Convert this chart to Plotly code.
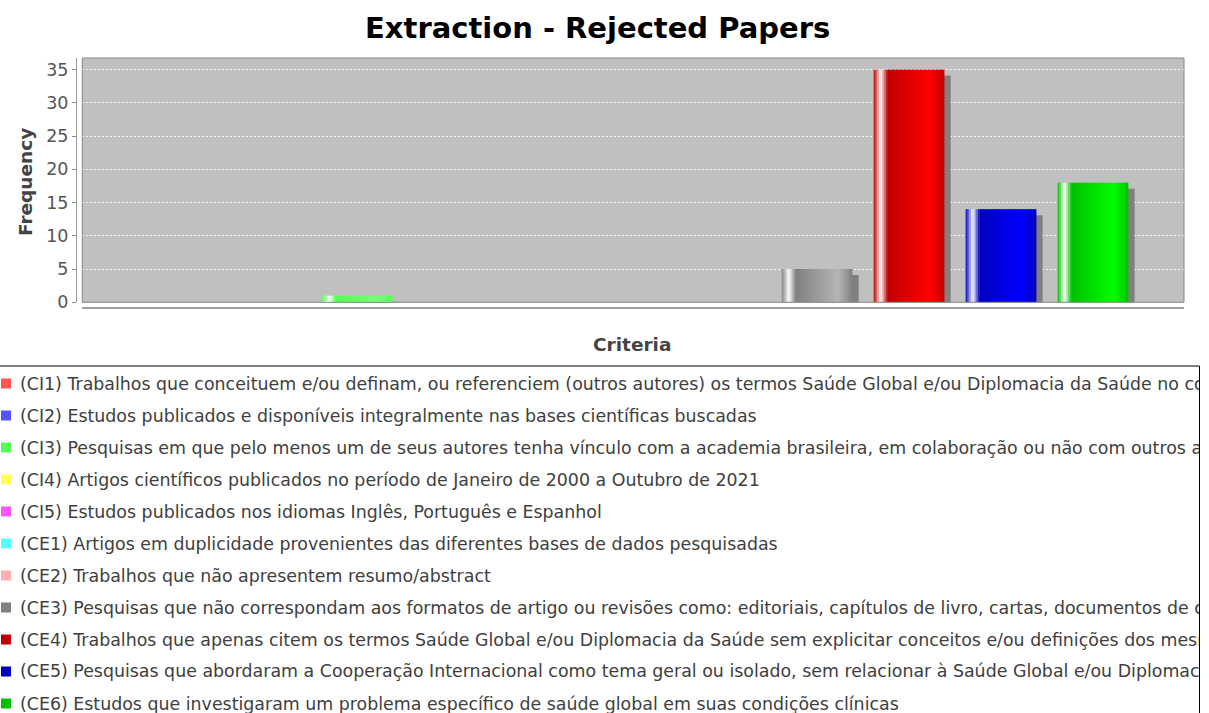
import plotly.graph_objects as go

# ---------------- data ----------------
criteria_codes = ["CI1", "CI2", "CI3", "CI4", "CI5", "CE1", "CE2", "CE3", "CE4", "CE5", "CE6"]
criteria_text = [
    "Trabalhos que conceituem e/ou definam, ou referenciem (outros autores) os termos Saúde Global e/ou Diplomacia da Saúde no contexto brasileiro",
    "Estudos publicados e disponíveis integralmente nas bases científicas buscadas",
    "Pesquisas em que pelo menos um de seus autores tenha vínculo com a academia brasileira, em colaboração ou não com outros autores",
    "Artigos científicos publicados no período de Janeiro de 2000 a Outubro de 2021",
    "Estudos publicados nos idiomas Inglês, Português e Espanhol",
    "Artigos em duplicidade provenientes das diferentes bases de dados pesquisadas",
    "Trabalhos que não apresentem resumo/abstract",
    "Pesquisas que não correspondam aos formatos de artigo ou revisões como: editoriais, capítulos de livro, cartas, documentos de consenso",
    "Trabalhos que apenas citem os termos Saúde Global e/ou Diplomacia da Saúde sem explicitar conceitos e/ou definições dos mesmos",
    "Pesquisas que abordaram a Cooperação Internacional como tema geral ou isolado, sem relacionar à Saúde Global e/ou Diplomacia da Saúde",
    "Estudos que investigaram um problema específico de saúde global em suas condições clínicas",
]
frequency = [0, 0, 1, 0, 0, 0, 0, 5, 35, 14, 18]
series_colors = ["#FF5555", "#5555FF", "#55FF55", "#FFFF55", "#FF55FF", "#55FFFF",
                 "#FFAFAF", "#808080", "#C00000", "#0000C0", "#00C000"]
y_ticks = [0, 5, 10, 15, 20, 25, 30, 35]
chart_title = "Extraction - Rejected Papers"
x_title = "Criteria"
y_title = "Frequency"

# ---------------- helpers ----------------
W, H = 1209, 713
ML, MR, MT, MB = 76, 25, 58, 405
PW, PH = W - ML - MR, H - MT - MB


def px_x(p):
    return (p - ML) / PW


def px_y(p):
    return (H - MB - p) / PH


def hex_rgb(c):
    c = c.lstrip("#")
    return [int(c[i:i + 2], 16) for i in (0, 2, 4)]


def brighter(rgb):
    f = 0.7
    i = int(1.0 / (1.0 - f))
    if rgb == [0, 0, 0]:
        return [i, i, i]
    out = []
    for v in rgb:
        if 0 < v < i:
            v = i
        out.append(min(int(v / f), 255))
    return out


def mix(a, b, t):
    return [a[k] + (b[k] - a[k]) * t for k in range(3)]


def gradient(c, t):
    c0 = hex_rgb(c)
    c1 = brighter(c0)
    white = [255, 255, 255]
    if t < 0.1:
        col = mix(c0, white, t / 0.1)
    elif t < 0.2:
        col = mix(white, c0, (t - 0.1) / 0.1)
    elif t < 0.8:
        col = mix(c0, c1, (t - 0.2) / 0.6)
    else:
        col = mix(c1, c0, (t - 0.8) / 0.2)
    return "rgb(%d,%d,%d)" % tuple(round(v) for v in col)


xs = list(range(len(criteria_codes)))
bar_w = 0.77
shadow_dx = 0.068
shadow_dy = 0.9
n_strips = 40
strip_w = bar_w / n_strips

fig = go.Figure()

# shadow
fig.add_trace(go.Bar(
    x=xs, y=frequency, base=-shadow_dy, width=bar_w, offset=-bar_w / 2 + shadow_dx,
    marker=dict(color="#808080", line=dict(width=0)), hoverinfo="skip", showlegend=False,
))

# gradient bars made of thin strips
for k in range(n_strips):
    t = (k + 0.5) / n_strips
    off = -bar_w / 2 + k * strip_w
    w = min(strip_w * 1.6, bar_w / 2 - off)
    fig.add_trace(go.Bar(
        x=xs, y=frequency, width=w, offset=off,
        marker=dict(color=[gradient(c, t) for c in series_colors], line=dict(width=0)),
        hoverinfo="skip", showlegend=False,
    ))

fig.update_layout(
    width=W, height=H,
    margin=dict(l=ML, r=MR, t=MT, b=MB, autoexpand=False),
    paper_bgcolor="white",
    plot_bgcolor="#C0C0C0",
    barmode="overlay",
    showlegend=False,
    font=dict(family="DejaVu Sans", color="#444444"),
    xaxis=dict(
        domain=[px_x(82.3), 1], anchor="free", position=0,
        range=[-0.99, 10.99], showticklabels=False, ticks="",
        showgrid=False, zeroline=False, showline=True, linecolor="#A0A0A0", linewidth=2,
        fixedrange=True,
    ),
    yaxis=dict(
        domain=[px_y(302.3), 1], anchor="free", position=0,
        range=[0, 36.75], tickvals=y_ticks, ticks="outside", ticklen=4, tickwidth=1,
        tickcolor="#888888", showline=True, linecolor="#999999", linewidth=1,
        showgrid=True, gridcolor="rgba(255,255,255,0.85)", gridwidth=1, griddash="2px,2px",
        zeroline=False, tickfont=dict(family="DejaVu Sans", size=17.5, color="#555555"),
        fixedrange=True,
    ),
)

shapes = [dict(type="rect", xref="x domain", yref="y domain", x0=0, x1=1, y0=0, y1=1,
               line=dict(color="#888888", width=1), layer="above")]
annotations = [
    dict(text="<b>%s</b>" % chart_title, xref="paper", yref="paper",
         x=px_x(597), y=px_y(28), xanchor="center", yanchor="middle", showarrow=False,
         font=dict(family="DejaVu Sans", size=29, color="black")),
    dict(text="<b>%s</b>" % x_title, xref="paper", yref="paper",
         x=px_x(632), y=px_y(344), xanchor="center", yanchor="middle", showarrow=False,
         font=dict(family="DejaVu Sans", size=18.5, color="#444444")),
    dict(text="<b>%s</b>" % y_title, xref="paper", yref="paper", textangle=-90,
         x=px_x(25), y=px_y(182), xanchor="center", yanchor="middle", showarrow=False,
         font=dict(family="DejaVu Sans", size=18.5, color="#444444")),
]

# custom legend box (clipped at the right like the original)
shapes.append(dict(type="rect", xref="paper", yref="paper",
                   x0=px_x(-1), x1=px_x(1199.5), y0=px_y(366), y1=px_y(740),
                   line=dict(color="black", width=1), fillcolor="rgba(0,0,0,0)"))
row0, row_step = 383.5, 32.0
for k, (code, desc, col) in enumerate(zip(criteria_codes, criteria_text, series_colors)):
    cy = row0 + k * row_step
    shapes.append(dict(type="rect", xref="paper", yref="paper",
                       x0=px_x(1), x1=px_x(11), y0=px_y(cy - 5), y1=px_y(cy + 5),
                       line=dict(width=0), fillcolor=col))
    annotations.append(dict(
        text="(%s) %s" % (code, desc), xref="paper", yref="paper",
        x=px_x(18), y=px_y(cy), xanchor="left", yanchor="middle", align="left",
        width=1199 - 20, showarrow=False,
        font=dict(family="DejaVu Sans", size=17.4, color="#404040"),
    ))

fig.update_layout(shapes=shapes, annotations=annotations)
fig.write_html(
    "out.html",
    include_plotlyjs=True,
    config={"displayModeBar": False},
    post_script="document.body.style.margin='0';document.body.style.padding='0';"
                "document.body.style.overflow='hidden';",
)
